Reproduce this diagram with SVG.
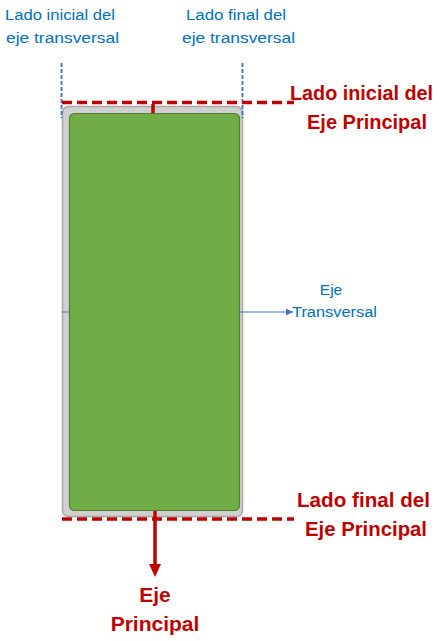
<svg xmlns="http://www.w3.org/2000/svg" width="441" height="641" viewBox="0 0 441 641">
<style>
.blue{font-family:"Liberation Sans",Arial,sans-serif;font-size:15.5px;fill:#0070c0}
.red{font-family:"Liberation Sans",Arial,sans-serif;font-size:21px;font-weight:bold;fill:#c00000}
.rdash{stroke:#c00000;stroke-width:3.5;stroke-dasharray:10 5;fill:none}
.bdash{stroke:#4472c4;stroke-width:1.8;stroke-dasharray:4 2;fill:none}
</style>
<defs>
<marker id="bArrow" markerWidth="8" markerHeight="8" refX="7" refY="4" orient="auto" markerUnits="userSpaceOnUse">
<path d="M0,0.5 L7,4 L0,7.5 Z" fill="#4472c4"/>
</marker>
</defs>
<rect width="441" height="641" fill="#ffffff"/>
<g id="body">
<rect x="62.5" y="106.5" width="180" height="410" rx="6" fill="#d0d0d0" stroke="#a6a6a6" stroke-width="1.5"/>
<rect x="69.5" y="113.5" width="170" height="397" rx="5" fill="#70ad47" stroke="#507e32" stroke-width="1.2"/>
</g>
<g id="connectors">
<line x1="61.5" y1="63" x2="61.5" y2="118" class="bdash"/>
<line x1="242.5" y1="63" x2="242.5" y2="118" class="bdash"/>
<line x1="62" y1="102.5" x2="294" y2="102.5" class="rdash"/>
<line x1="62" y1="519" x2="294" y2="519" class="rdash"/>
<line x1="153" y1="104" x2="153" y2="113" stroke="#c00000" stroke-width="3.5"/>
<line x1="62" y1="312" x2="69" y2="312" stroke="#4472c4" stroke-width="1"/>
<line x1="238" y1="312" x2="293" y2="312" stroke="#4472c4" stroke-width="1" marker-end="url(#bArrow)"/>
<line x1="155" y1="511" x2="155" y2="565" stroke="#c00000" stroke-width="3.5"/>
<path d="M149,564 L161,564 L155,577 Z" fill="#c00000"/>
</g>
<g id="label-lado-inicial-transversal">
<text class="blue" x="5" y="20" textLength="110" lengthAdjust="spacingAndGlyphs">Lado inicial del</text>
<text class="blue" x="6" y="43" textLength="113" lengthAdjust="spacingAndGlyphs">eje transversal</text>
</g>
<g id="label-lado-final-transversal">
<text class="blue" x="186" y="20" textLength="100" lengthAdjust="spacingAndGlyphs">Lado final del</text>
<text class="blue" x="182" y="43" textLength="113" lengthAdjust="spacingAndGlyphs">eje transversal</text>
</g>
<g id="label-eje-transversal">
<text class="blue" x="331" y="295" text-anchor="middle">Eje</text>
<text class="blue" x="292" y="317" textLength="85" lengthAdjust="spacingAndGlyphs">Transversal</text>
</g>
<g id="label-lado-inicial-principal">
<text class="red" x="290" y="100" style="font-size:20px" textLength="143" lengthAdjust="spacingAndGlyphs">Lado inicial del</text>
<text class="red" x="307" y="129" textLength="120" lengthAdjust="spacingAndGlyphs">Eje Principal</text>
</g>
<g id="label-lado-final-principal">
<text class="red" x="297" y="507" textLength="133" lengthAdjust="spacingAndGlyphs">Lado final del</text>
<text class="red" x="305" y="536" textLength="122" lengthAdjust="spacingAndGlyphs">Eje Principal</text>
</g>
<g id="label-eje-principal">
<text class="red" x="155" y="602" text-anchor="middle">Eje</text>
<text class="red" x="155" y="631" text-anchor="middle">Principal</text>
</g>
</svg>
